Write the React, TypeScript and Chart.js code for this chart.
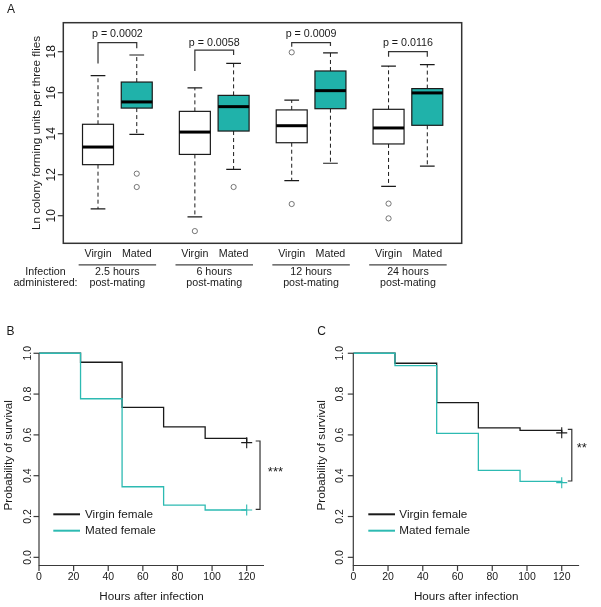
import React, { useEffect, useRef } from "react";
import { Chart, registerables } from "chart.js";

Chart.register(...registerables);

const FONT = '"Liberation Sans", Arial, Helvetica, sans-serif';
const INK = "#1a1a1a";
const AXIS = "#3a3a3a";
const TEAL_FILL = "#20B2AA";
const TEAL_LINE = "#2DBAB2";

// ---------------- Panel A data ----------------
const infectionTimes = ["2.5 hours", "6 hours", "12 hours", "24 hours"];
const infectionSub = "post-mating";
const statusLabels = ["Virgin", "Mated"];
const boxPositions = [1, 2, 3.5, 4.5, 6, 7, 8.5, 9.5];
const whiskerLow = [10.33, 13.97, 9.94, 12.26, 11.71, 12.56, 11.43, 12.42];
const quartile1 = [12.49, 15.25, 12.99, 14.13, 13.56, 15.22, 13.5, 14.41];
const medians = [13.35, 15.55, 14.08, 15.32, 14.39, 16.1, 14.28, 15.99];
const quartile3 = [14.46, 16.52, 15.09, 15.87, 15.16, 17.06, 15.19, 16.2];
const whiskerHigh = [16.83, 17.84, 16.24, 17.43, 15.64, 17.94, 17.3, 17.37];
const outliers: number[][] = [[], [12.05, 11.4], [9.25], [11.4], [17.97, 10.57], [], [10.59, 9.87], []];
const pValueLabels = ["p = 0.0002", "p = 0.0058", "p = 0.0009", "p = 0.0116"];
const bracketTop = [18.44, 18.08, 18.44, 18.0];
const bracketLeftEnd = [17.43, 17.06, 18.24, 17.76];
const bracketRightEnd = [18.17, 17.84, 18.28, 17.76];
const pLabelY = [18.86, 18.44, 18.86, 18.44];
const yTicksA = [10, 12, 14, 16, 18];

// ---------------- Panels B / C data ----------------
const hours = [0, 24, 48, 72, 96, 120];
const xTicksSurv = [0, 20, 40, 60, 80, 100, 120];
const yTicksSurv = [0, 0.2, 0.4, 0.6, 0.8, 1.0];
const survBVirgin = [1, 0.956, 0.735, 0.639, 0.583, 0.562];
const survBMated = [1, 0.777, 0.346, 0.256, 0.232, 0.232];
const survCVirgin = [1, 0.951, 0.758, 0.634, 0.622, 0.61];
const survCMated = [1, 0.939, 0.607, 0.426, 0.372, 0.366];
const legendLabels = ["Virgin female", "Mated female"];

function rotText(ctx: CanvasRenderingContext2D, text: string, x: number, y: number, font: string) {
  ctx.save();
  ctx.translate(x, y);
  ctx.rotate(-Math.PI / 2);
  ctx.font = font;
  ctx.textAlign = "center";
  ctx.textBaseline = "middle";
  ctx.fillText(text, 0, 0);
  ctx.restore();
}

function text(ctx: CanvasRenderingContext2D, t: string, x: number, y: number, font: string, align: CanvasTextAlign = "center") {
  ctx.font = font;
  ctx.textAlign = align;
  ctx.textBaseline = "middle";
  ctx.fillText(t, x, y);
}

const boxPlugin = {
  id: "boxA",
  beforeDatasetsDraw(chart: any) {
    const { ctx, chartArea: ca } = chart;
    const xs = chart.scales.x;
    const ys = chart.scales.y;
    const half = 0.4;
    const cap = 0.19;
    ctx.save();
    boxPositions.forEach((p, i) => {
      const xc = xs.getPixelForValue(p);
      const xl = xs.getPixelForValue(p - half);
      const xr = xs.getPixelForValue(p + half);
      const cl = xs.getPixelForValue(p - cap);
      const cr = xs.getPixelForValue(p + cap);
      const yLo = ys.getPixelForValue(whiskerLow[i]);
      const yQ1 = ys.getPixelForValue(quartile1[i]);
      const yMed = ys.getPixelForValue(medians[i]);
      const yQ3 = ys.getPixelForValue(quartile3[i]);
      const yHi = ys.getPixelForValue(whiskerHigh[i]);
      ctx.strokeStyle = INK;
      // whiskers
      ctx.lineWidth = 1;
      ctx.setLineDash([4, 3]);
      ctx.beginPath();
      ctx.moveTo(xc, yQ3);
      ctx.lineTo(xc, yHi);
      ctx.moveTo(xc, yQ1);
      ctx.lineTo(xc, yLo);
      ctx.stroke();
      ctx.setLineDash([]);
      ctx.lineWidth = 1.2;
      ctx.beginPath();
      ctx.moveTo(cl, yHi);
      ctx.lineTo(cr, yHi);
      ctx.moveTo(cl, yLo);
      ctx.lineTo(cr, yLo);
      ctx.stroke();
      // box
      ctx.fillStyle = i % 2 === 1 ? TEAL_FILL : "#ffffff";
      ctx.fillRect(xl, yQ3, xr - xl, yQ1 - yQ3);
      ctx.lineWidth = 1.2;
      ctx.strokeRect(xl, yQ3, xr - xl, yQ1 - yQ3);
      // median
      ctx.lineWidth = 3;
      ctx.strokeStyle = "#000";
      ctx.beginPath();
      ctx.moveTo(xl, yMed);
      ctx.lineTo(xr, yMed);
      ctx.stroke();
    });
    ctx.restore();
  },
  afterDraw(chart: any) {
    const { ctx, chartArea: ca } = chart;
    const xs = chart.scales.x;
    const ys = chart.scales.y;
    ctx.save();
    ctx.fillStyle = INK;
    // frame
    ctx.strokeStyle = "#333";
    ctx.lineWidth = 1.5;
    ctx.strokeRect(ca.left, ca.top, ca.right - ca.left, ca.bottom - ca.top);
    // y ticks
    ctx.lineWidth = 1.2;
    yTicksA.forEach((t) => {
      const py = ys.getPixelForValue(t);
      ctx.beginPath();
      ctx.moveTo(ca.left - 5.5, py);
      ctx.lineTo(ca.left, py);
      ctx.stroke();
      rotText(ctx, String(t), ca.left - 11.8, py, `12px ${FONT}`);
    });
    rotText(ctx, "Ln colony forming units per three flies", 36.5, (ca.top + ca.bottom) / 2, `11.7px ${FONT}`);
    // p-value brackets
    ctx.strokeStyle = "#333";
    ctx.lineWidth = 1.2;
    infectionTimes.forEach((_, g) => {
      const x1 = xs.getPixelForValue(boxPositions[2 * g]);
      const x2 = xs.getPixelForValue(boxPositions[2 * g + 1]);
      ctx.beginPath();
      ctx.moveTo(x1, ys.getPixelForValue(bracketLeftEnd[g]));
      ctx.lineTo(x1, ys.getPixelForValue(bracketTop[g]));
      ctx.lineTo(x2, ys.getPixelForValue(bracketTop[g]));
      ctx.lineTo(x2, ys.getPixelForValue(bracketRightEnd[g]));
      ctx.stroke();
      text(ctx, pValueLabels[g], (x1 + x2) / 2, ys.getPixelForValue(pLabelY[g]), `10.7px ${FONT}`);
    });
    // category labels under the plot
    const f = `10.7px ${FONT}`;
    boxPositions.forEach((p, i) => {
      text(ctx, statusLabels[i % 2], xs.getPixelForValue(p), ca.bottom + 11, f);
    });
    ctx.strokeStyle = "#444";
    ctx.lineWidth = 1.3;
    infectionTimes.forEach((lab, g) => {
      const a = xs.getPixelForValue(boxPositions[2 * g] - 0.5);
      const b = xs.getPixelForValue(boxPositions[2 * g + 1] + 0.5);
      ctx.beginPath();
      ctx.moveTo(a, ca.bottom + 21.5);
      ctx.lineTo(b, ca.bottom + 21.5);
      ctx.stroke();
      text(ctx, lab, (a + b) / 2, ca.bottom + 29, f);
      text(ctx, infectionSub, (a + b) / 2, ca.bottom + 40, f);
    });
    text(ctx, "Infection", 45.5, ca.bottom + 29, f);
    text(ctx, "administered:", 45.5, ca.bottom + 40, f);
    text(ctx, "A", 11, 9.5, `12px ${FONT}`);
    ctx.restore();
  },
};

type SurvCfg = {
  letter: string;
  letterX: number;
  yLabelX: number;
  yTitleX: number;
  legendX0: number;
  legendX1: number;
  legendTextX: number;
  bracketX: number;
  bracketTickX: number;
  bracketTop: number;
  bracketBottom: number;
  stars: string;
  starsX: number;
  starsY: number;
};

function makeSurvPlugin(cfg: SurvCfg) {
  return {
    id: "surv" + cfg.letter,
    afterDraw(chart: any) {
      const { ctx, chartArea: ca } = chart;
      const xs = chart.scales.x;
      const ys = chart.scales.y;
      ctx.save();
      ctx.fillStyle = INK;
      ctx.strokeStyle = AXIS;
      ctx.lineWidth = 1.2;
      const x0 = xs.getPixelForValue(0);
      ctx.beginPath();
      ctx.moveTo(x0, ys.getPixelForValue(1));
      ctx.lineTo(x0, ca.bottom);
      ctx.lineTo(xs.getPixelForValue(130), ca.bottom);
      ctx.stroke();
      const tf = `10.5px ${FONT}`;
      yTicksSurv.forEach((t) => {
        const py = ys.getPixelForValue(t);
        ctx.beginPath();
        ctx.moveTo(x0 - 5.5, py);
        ctx.lineTo(x0, py);
        ctx.stroke();
        rotText(ctx, t.toFixed(1), cfg.yLabelX, py, tf);
      });
      xTicksSurv.forEach((t) => {
        const px = xs.getPixelForValue(t);
        ctx.beginPath();
        ctx.moveTo(px, ca.bottom);
        ctx.lineTo(px, ca.bottom + 5.5);
        ctx.stroke();
        text(ctx, String(t), px, ca.bottom + 12, tf);
      });
      const titleF = `11.7px ${FONT}`;
      text(ctx, "Hours after infection", (x0 + xs.getPixelForValue(130)) / 2, ca.bottom + 31.2, titleF);
      rotText(ctx, "Probability of survival", cfg.yTitleX, ys.getPixelForValue(0.5), titleF);
      // legend
      const colors = [INK, TEAL_LINE];
      const ly = [194.3, 210.7];
      legendLabels.forEach((lab, i) => {
        ctx.strokeStyle = colors[i];
        ctx.lineWidth = 2;
        ctx.beginPath();
        ctx.moveTo(cfg.legendX0, ly[i]);
        ctx.lineTo(cfg.legendX1, ly[i]);
        ctx.stroke();
        ctx.fillStyle = INK;
        text(ctx, lab, cfg.legendTextX, ly[i], titleF, "left");
      });
      // significance bracket
      ctx.strokeStyle = "#333";
      ctx.lineWidth = 1.2;
      const bx = xs.getPixelForValue(cfg.bracketX);
      const tx = xs.getPixelForValue(cfg.bracketTickX);
      const bt = ys.getPixelForValue(cfg.bracketTop);
      const bb = ys.getPixelForValue(cfg.bracketBottom);
      ctx.beginPath();
      ctx.moveTo(tx, bt);
      ctx.lineTo(bx, bt);
      ctx.lineTo(bx, bb);
      ctx.lineTo(tx, bb);
      ctx.stroke();
      ctx.font = `13px ${FONT}`;
      ctx.textAlign = "center";
      ctx.textBaseline = "alphabetic";
      ctx.fillText(cfg.stars, xs.getPixelForValue(cfg.starsX), ys.getPixelForValue(cfg.starsY) + 7.5);
      text(ctx, cfg.letter, cfg.letterX, 11.5, `12px ${FONT}`);
      ctx.restore();
    },
  };
}

function survConfig(virgin: number[], mated: number[], padding: any, plugin: any) {
  const pts = (arr: number[]) => hours.map((h, i) => ({ x: h, y: arr[i] }));
  const last = hours.length - 1;
  return {
    type: "line" as const,
    data: {
      datasets: [
        {
          data: pts(mated),
          stepped: "before",
          borderColor: TEAL_LINE,
          borderWidth: 1.3,
          pointRadius: 0,
          fill: false,
        },
        {
          data: pts(virgin),
          stepped: "before",
          borderColor: INK,
          borderWidth: 1.3,
          pointRadius: 0,
          fill: false,
        },
        {
          data: [{ x: hours[last], y: mated[last] }],
          showLine: false,
          pointStyle: "cross",
          pointRadius: 5.5,
          pointBorderWidth: 1.1,
          pointBorderColor: TEAL_LINE,
          borderColor: TEAL_LINE,
        },
        {
          data: [{ x: hours[last], y: virgin[last] }],
          showLine: false,
          pointStyle: "cross",
          pointRadius: 5.5,
          pointBorderWidth: 1.1,
          pointBorderColor: INK,
          borderColor: INK,
        },
      ],
    },
    options: {
      responsive: false,
      animation: false,
      events: [],
      clip: false,
      layout: { padding },
      scales: {
        x: { type: "linear", display: false, min: 0, max: 130 },
        y: { type: "linear", display: false, min: -0.04, max: 1.04 },
      },
      plugins: { legend: { display: false }, tooltip: { enabled: false } },
    },
    plugins: [plugin],
  };
}

export default function App() {
  const refA = useRef<HTMLCanvasElement>(null);
  const refB = useRef<HTMLCanvasElement>(null);
  const refC = useRef<HTMLCanvasElement>(null);

  useEffect(() => {
    const outlierData: { x: number; y: number }[] = [];
    outliers.forEach((arr, i) => arr.forEach((v) => outlierData.push({ x: boxPositions[i], y: v })));

    const chartA = new Chart(refA.current!, {
      type: "scatter",
      data: {
        datasets: [
          {
            data: outlierData,
            pointStyle: "circle",
            pointRadius: 2.6,
            pointBorderWidth: 0.8,
            pointBorderColor: "#555",
            pointBackgroundColor: "rgba(0,0,0,0)",
          },
        ],
      },
      options: {
        responsive: false,
        animation: false,
        events: [],
        layout: { padding: { left: 63.3, top: 22.7, right: 139.3, bottom: 76.7 } },
        scales: {
          x: { type: "linear", display: false, min: 0.104, max: 10.388 },
          y: { type: "linear", display: false, min: 8.654, max: 19.415 },
        },
        plugins: { legend: { display: false }, tooltip: { enabled: false } },
      },
      plugins: [boxPlugin],
    } as any);

    const chartB = new Chart(
      refB.current!,
      survConfig(
        survBVirgin,
        survBMated,
        { left: 39, right: 36, top: 25.1, bottom: 41.5 },
        makeSurvPlugin({
          letter: "B",
          letterX: 10.5,
          yLabelX: 28,
          yTitleX: 8.8,
          legendX0: 53.3,
          legendX1: 80,
          legendTextX: 85,
          bracketX: 127.7,
          bracketTickX: 125.2,
          bracketTop: 0.57,
          bracketBottom: 0.235,
          stars: "***",
          starsX: 136.6,
          starsY: 0.436,
        })
      ) as any
    );

    const chartC = new Chart(
      refC.current!,
      survConfig(
        survCVirgin,
        survCMated,
        { left: 53.3, right: 21.9, top: 25.1, bottom: 41.5 },
        makeSurvPlugin({
          letter: "C",
          letterX: 21.7,
          yLabelX: 39.7,
          yTitleX: 21.3,
          legendX0: 68.3,
          legendX1: 95,
          legendTextX: 99.3,
          bracketX: 125.8,
          bracketTickX: 123.5,
          bracketTop: 0.627,
          bracketBottom: 0.374,
          stars: "**",
          starsX: 131.5,
          starsY: 0.555,
        })
      ) as any
    );

    return () => {
      chartA.destroy();
      chartB.destroy();
      chartC.destroy();
    };
  }, []);

  return (
    <div style={{ position: "absolute", left: 0, top: 0, width: 601, height: 607, background: "#fff" }}>
      <canvas ref={refA} width={601} height={320} style={{ position: "absolute", left: 0, top: 0 }} />
      <canvas ref={refB} width={300} height={287} style={{ position: "absolute", left: 0, top: 320 }} />
      <canvas ref={refC} width={301} height={287} style={{ position: "absolute", left: 300, top: 320 }} />
    </div>
  );
}
